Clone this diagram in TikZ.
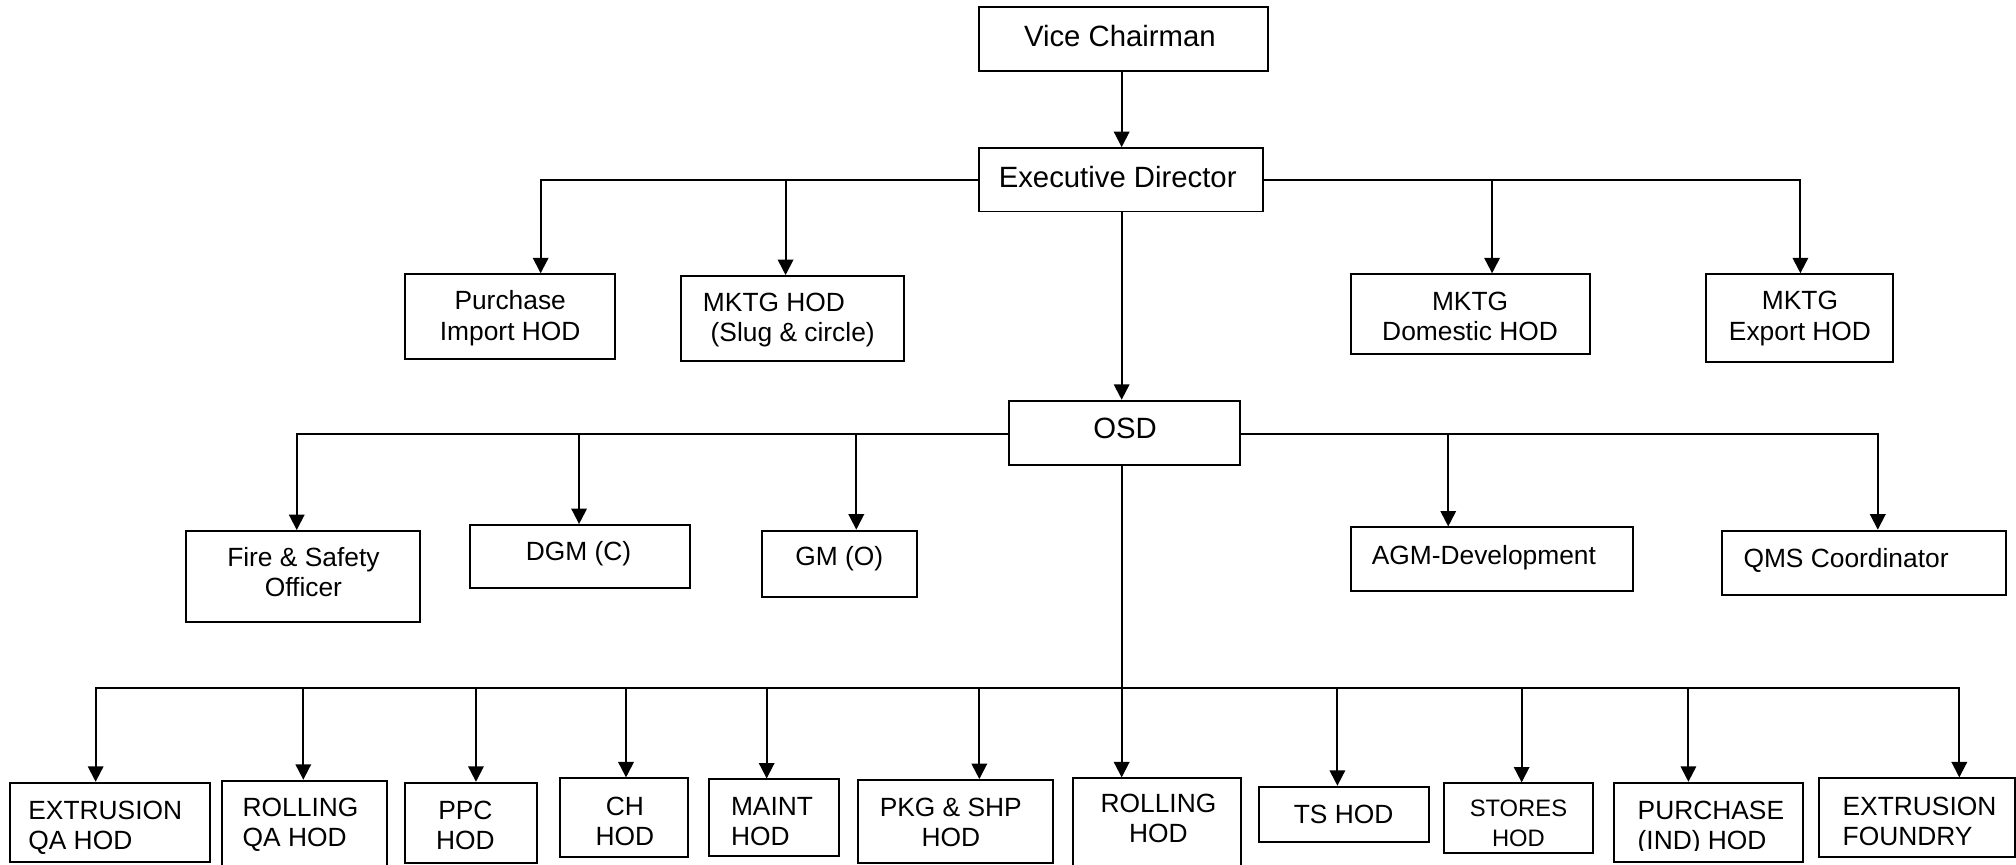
\documentclass[tikz,border=0pt]{standalone}
\usepackage{fontspec}
\setmainfont{Liberation Sans}
\usetikzlibrary{arrows.meta,fit}
\newcommand\twoln[3]{\begin{tabular}[t]{@{}#1@{}}#2\\#3\end{tabular}}
\begin{document}
\begin{tikzpicture}[x=1pt,y=-1pt,line width=1.5pt,
  box/.style={draw=black,line width=1.5pt,inner sep=0pt},
  lbl/.style={inner sep=0pt,anchor=base,font={\fontsize{20.5}{23.5}\selectfont}},
  lbll/.style={lbl,anchor=base west},
  big/.style={lbl,font={\fontsize{22.8}{26}\selectfont}},
  small/.style={lbl,font={\fontsize{18.5}{23}\selectfont}},
  arr/.style={-{Triangle[length=12pt,width=12pt]},line width=1.5pt}]
\useasboundingbox (0,0) rectangle (1568,672);

% top levels
\node[box,fit={(761.4,5.7) (986.5,54.9)}] (vc) {};
\node[box,fit={(761.4,115.2) (982.6,164.5)}] (ed) {};
\node[box,fit={(785,311.7) (964.5,361.3)}] (osd) {};
\node[big] (vcT) at (871,36.5) {Vice Chairman};
\node[big] (edT) at (869.3,146) {Executive Director};
\node[big] (osdT) at (875,341.3) {OSD};

% second level
\node[box,fit={(315.3,213.3) (478.3,279)}] (pi) {};
\node[box,fit={(530,214.7) (703,280.8)}] (ms) {};
\node[box,fit={(1050.5,213.3) (1236.4,275.6)}] (dom) {};
\node[box,fit={(1327,213.3) (1472.6,281.3)}] (exp) {};
\node[lbl] (piT) at (396.8,241) {\twoln{c}{Purchase}{Import HOD}};
\node[lbll] (msT) at (546,242.4) {\twoln{l}{MKTG HOD}{\hspace*{6pt}(Slug \& circle)}};
\node[lbl] (domT) at (1143.4,241.3) {\twoln{c}{MKTG}{Domestic HOD}};
\node[lbl] (expT) at (1400,241) {\twoln{c}{MKTG}{Export HOD}};

% third level
\node[box,fit={(145,413) (327,484)}] (fire) {};
\node[box,fit={(365.3,408.3) (536.4,457.4)}] (dgm) {};
\node[box,fit={(592.7,412.7) (713,464)}] (gm) {};
\node[box,fit={(1050.5,410.2) (1270.4,459.4)}] (agm) {};
\node[box,fit={(1339.6,412.7) (1560.1,462.5)}] (qms) {};
\node[lbl] (fireT) at (236,440.7) {\twoln{c}{Fire \& Safety}{Officer}};
\node[lbl] (dgmT) at (450,435.6) {DGM (C)};
\node[lbl] (gmT) at (652.7,440) {GM (O)};
\node[lbll] (agmT) at (1066.2,439) {AGM-Development};
\node[lbll] (qmsT) at (1355.3,441.3) {QMS Coordinator};

% bottom level
\node[box,fit={(7.8,608.8) (163.3,670.2)}] (eqa) {};
\node[box,fit={(172.9,607.2) (300.8,690)}] (rqa) {};
\node[box,fit={(315,608.8) (417.4,671)}] (ppc) {};
\node[box,fit={(435.6,605.4) (535.4,666.3)}] (ch) {};
\node[box,fit={(551.7,606.2) (652.8,665.8)}] (mnt) {};
\node[box,fit={(667.1,606.7) (818.8,671)}] (pkg) {};
\node[box,fit={(834.8,605.4) (965,690)}] (rh) {};
\node[box,fit={(979.2,611.9) (1111.5,655.2)}] (ts) {};
\node[box,fit={(1123.4,609.3) (1239.3,663.7)}] (st) {};
\node[box,fit={(1255.6,608.8) (1402.6,670.2)}] (pur) {};
\node[box,fit={(1414.8,605.4) (1567.2,666.3)}] (ef) {};

\node[lbll] (eqaT) at (21.3,637.3) {\twoln{l}{EXTRUSION}{QA HOD}};
\node[lbll] (rqaT) at (188,635.2) {\twoln{l}{ROLLING}{QA HOD}};
\node[lbl] (ppcT) at (362,637) {\twoln{c}{PPC}{HOD}};
\node[lbl] (chT) at (486,633.9) {\twoln{c}{CH}{HOD}};
\node[lbll] (mntT) at (567.8,633.9) {\twoln{l}{MAINT}{HOD}};
\node[lbl] (pkgT) at (739.5,635.2) {\twoln{c}{PKG \& SHP}{HOD}};
\node[lbl] (rhT) at (901,632.1) {\twoln{c}{ROLLING}{HOD}};
\node[lbl] (tsT) at (1045,640.4) {TS HOD};
\begin{scope}
\clip (1123.4,609.3) rectangle (1239.3,659.5);
\node[small] (stT) at (1181,635.2) {\twoln{c}{STORES}{HOD}};
\end{scope}
\begin{scope}
\clip (1255.6,608.8) rectangle (1402.6,661.5);
\node[lbll] (purT) at (1273,637) {\twoln{l}{PURCHASE}{(IND) HOD}};
\end{scope}
\node[lbll] (efT) at (1432.4,633.9) {\twoln{l}{EXTRUSION}{FOUNDRY}};

% vertical spine
\coordinate (xc) at (872.4,0);
\draw[arr] (vc.south -| xc) -- (ed.north -| xc);
\draw[arr] (ed.south -| xc) -- (osd.north -| xc);
\draw[arr] (osd.south -| xc) -- (rh.north -| xc);

% executive director bus
\coordinate (e1) at (420.5,139.8);
\coordinate (e2) at (611,139.8);
\coordinate (e3) at (1160.5,139.8);
\coordinate (e4) at (1400.3,139.8);
\draw[arr] (ed.west |- e1) -- (e1) -- (pi.north -| e1);
\draw[arr] (e2) -- (ms.north -| e2);
\draw[arr] (ed.east |- e4) -- (e4) -- (exp.north -| e4);
\draw[arr] (e3) -- (dom.north -| e3);

% OSD bus
\coordinate (o1) at (230.8,337.5);
\coordinate (o2) at (450.4,337.5);
\coordinate (o3) at (666,337.5);
\coordinate (o4) at (1126.4,337.5);
\coordinate (o5) at (1460.5,337.5);
\draw[arr] (osd.west |- o1) -- (o1) -- (fire.north -| o1);
\draw[arr] (o2) -- (dgm.north -| o2);
\draw[arr] (o3) -- (gm.north -| o3);
\draw[arr] (osd.east |- o5) -- (o5) -- (qms.north -| o5);
\draw[arr] (o4) -- (agm.north -| o4);

% bottom bus
\coordinate (b1) at (74.4,535.4);
\coordinate (b2) at (235.9,535.4);
\coordinate (b3) at (370.2,535.4);
\coordinate (b4) at (486.9,535.4);
\coordinate (b5) at (596.3,535.4);
\coordinate (b6) at (761.7,535.4);
\coordinate (b7) at (872.4,535.4);
\coordinate (b8) at (1040.2,535.4);
\coordinate (b9) at (1183.5,535.4);
\coordinate (b10) at (1313.2,535.4);
\coordinate (b11) at (1523.9,535.4);
\draw[arr] (b7) -- (b1) -- (eqa.north -| b1);
\draw[arr] (b7) -- (b11) -- (ef.north -| b11);
\draw[arr] (b2) -- (rqa.north -| b2);
\draw[arr] (b3) -- (ppc.north -| b3);
\draw[arr] (b4) -- (ch.north -| b4);
\draw[arr] (b5) -- (mnt.north -| b5);
\draw[arr] (b6) -- (pkg.north -| b6);
\draw[arr] (b8) -- (ts.north -| b8);
\draw[arr] (b9) -- (st.north -| b9);
\draw[arr] (b10) -- (pur.north -| b10);
\end{tikzpicture}
\end{document}
